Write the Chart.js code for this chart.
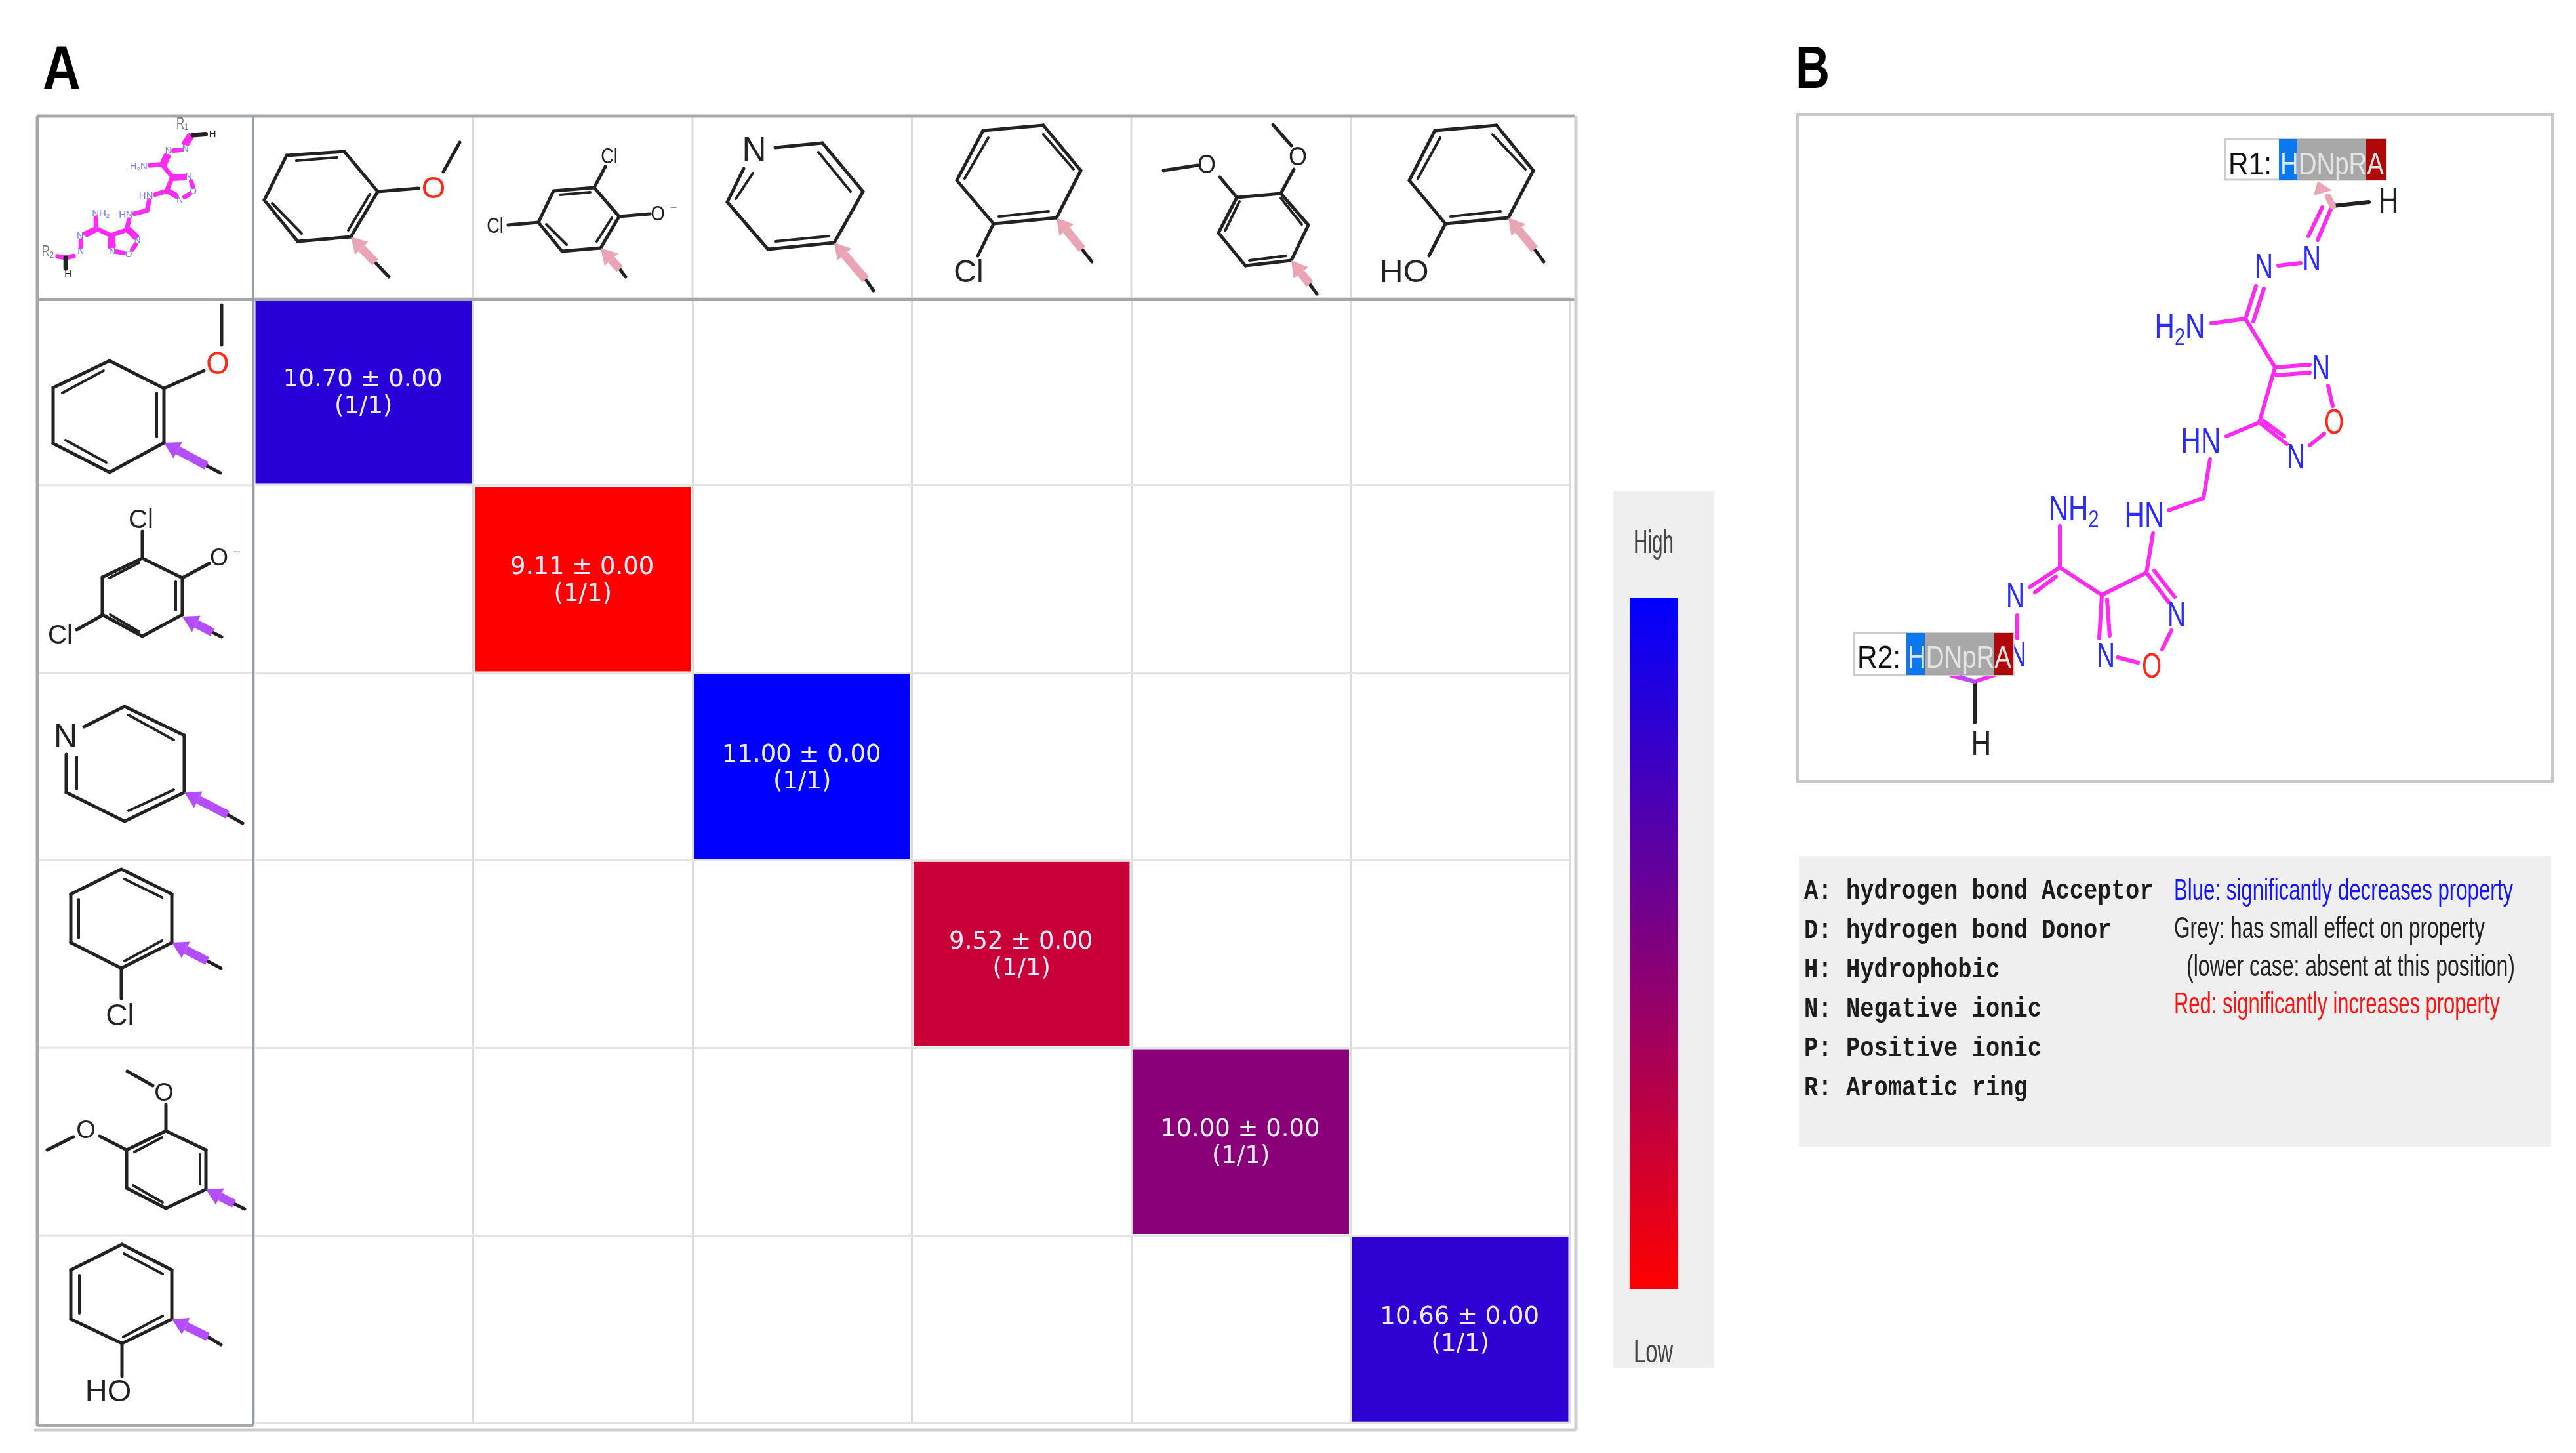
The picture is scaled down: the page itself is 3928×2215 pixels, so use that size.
<!DOCTYPE html>
<html>
<head>
<meta charset="utf-8">
<title>R-group matrix</title>
<script src="https://cdn.jsdelivr.net/npm/chart.js@4"></script>
<style>
html, body { margin: 0; padding: 0; background: #fff; overflow: hidden; }
#wrap { position: relative; width: 3928px; height: 2215px; }
#heat, #art { position: absolute; left: 0; top: 0; }
#art { pointer-events: none; }
text { font-family: "Liberation Sans", Arial, sans-serif; }
</style>
</head>
<body>
<div id="wrap">
<canvas id="heat" width="3928" height="2215"></canvas>
<svg id="art" width="3928" height="2215" viewBox="0 0 3928 2215" xmlns="http://www.w3.org/2000/svg"></svg>
</div>
<script>
// heat map data, R1 substituent = column, R2 substituent = row
const substituents = ['2-methoxy', '3,5-dichloro-2-oxido', 'pyridin-4-yl', '2-chloro', '3,4-dimethoxy', '2-hydroxy'];
const means = [10.70, 9.11, 11.00, 9.52, 10.00, 10.66];
const errors = [0, 0, 0, 0, 0, 0];
const hits = [1, 1, 1, 1, 1, 1];
const totals = [1, 1, 1, 1, 1, 1];
const colourLow = 9.11;
const colourHigh = 11.00;

const legendLeft = ['A: hydrogen bond Acceptor', 'D: hydrogen bond Donor', 'H: Hydrophobic', 'N: Negative ionic', 'P: Positive ionic', 'R: Aromatic ring'];
const legendRight = ['Blue: significantly decreases property', 'Grey: has small effect on property', '(lower case: absent at this position)', 'Red: significantly increases property'];
const pharmacophore = 'HDNpRA';

function cellColour(v) {
    const t = (v - colourLow) / (colourHigh - colourLow);
    return `rgb(${Math.round(255 * (1 - t))},0,${Math.round(255 * t)})`;
}

const cellInset = 0.008;

// header lines outside the plot area and the white labels in the cells
const tablePlugin = {
    id: 'table',
    afterDatasetsDraw(chart) {
        const { ctx, chartArea: a, scales: { x, y } } = chart;
        const top = 177, left = 57, rowHead = 386, right = 2401, bottom = 2180;
        const line = (x1, y1, x2, y2, c, w) => {
            ctx.strokeStyle = c; ctx.lineWidth = w;
            ctx.beginPath(); ctx.moveTo(x1, y1); ctx.lineTo(x2, y2); ctx.stroke();
        };
        ctx.save();
        for (let i = 1; i < 6; i++) {
            const px = a.left + i * (a.right - a.left) / 6;
            line(px, top, px, a.top, '#dcdcdc', 3);
        }
        for (let i = 1; i < 6; i++) {
            const py = y.getPixelForValue(i);
            line(left, py, rowHead, py, '#e4e4e4', 3);
        }
        line(left, top, right, top, '#a4a7ab', 5);
        line(left, 457, right, 457, '#a4a7ab', 4);
        line(left, top, left, 2174, '#a4a7ab', 5);
        line(rowHead, top, rowHead, 2174, '#999da3', 4);
        line(left, 2173, rowHead, 2173, '#a4a7ab', 4);
        line(52, bottom, right + 2, bottom, '#cfcfcf', 5);
        line(right + 2, top, right + 2, bottom, '#cfcfcf', 5);

        ctx.fillStyle = '#f0ecff';
        ctx.font = '37px "DejaVu Sans"';
        ctx.textAlign = 'center';
        means.forEach((v, i) => {
            const cx = x.getPixelForValue(i);
            const cy = y.getPixelForValue(i + 0.5);
            ctx.fillText(`${v.toFixed(2)} ± ${errors[i].toFixed(2)}`, cx - 1, cy - 8);
            ctx.fillText(`(${hits[i]}/${totals[i]})`, cx, cy + 33);
        });
        ctx.restore();
    }
};

new Chart(document.getElementById('heat'), {
    type: 'bar',
    data: {
        labels: substituents,
        datasets: [{
            data: means.map((v, i) => [i + cellInset, i + 1 - cellInset]),
            backgroundColor: means.map(cellColour),
            borderWidth: 0,
            barPercentage: 0.985,
            categoryPercentage: 1
        }]
    },
    options: {
        responsive: false,
        animation: false,
        devicePixelRatio: 1,
        layout: { padding: { left: 387, right: 1534, top: 454, bottom: 46 } },
        plugins: { legend: { display: false }, tooltip: { enabled: false } },
        scales: {
            x: {
                ticks: { display: false },
                grid: { color: '#dcdcdc', lineWidth: 3, drawTicks: false },
                border: { display: false }
            },
            y: {
                min: 0, max: 6, reverse: true,
                ticks: { display: false, stepSize: 1 },
                grid: { color: '#e4e4e4', lineWidth: 3, drawTicks: false },
                border: { display: false }
            }
        }
    },
    plugins: [tablePlugin]
});

// ---- structure drawings, not chart data ----
const BLUE = '#2b2bff', RED = '#ff2a1a', INK = '#222', PINK = '#e9a5b3', PURPLE = '#b44dff', MAG = '#ff2bf0';

function bond(b, c, w) {
    return `<line x1="${b[0]}" y1="${b[1]}" x2="${b[2]}" y2="${b[3]}" stroke="${c}" stroke-width="${w}" stroke-linecap="round" vector-effect="non-scaling-stroke"/>`;
}
function ring(p, open) {
    const edges = p.map((q, i) => { const n = p[(i + 1) % p.length]; return [q[0], q[1], n[0], n[1]]; });
    return open ? edges.slice(0, -1) : edges;
}
function label(t, x, y, size, colour, sx) {
    return `<text transform="translate(${x},${y + size * 0.36}) scale(${sx || 1},1)" text-anchor="middle" font-size="${size}" fill="${colour}">${t}</text>`;
}
function arrow(a, c) {
    // a = tip x,y, start of the coloured part x,y, far end of the black stub x,y
    const [tx, ty, bx, by, ex, ey] = a;
    const len = Math.hypot(bx - tx, by - ty), ux = (bx - tx) / len, uy = (by - ty) / len;
    const hx = tx + ux * 24, hy = ty + uy * 24;
    const head = `${tx},${ty} ${hx - uy * 14},${hy + ux * 14} ${hx + uy * 14},${hy - ux * 14}`;
    return bond([bx, by, ex, ey], INK, 5) +
        bond([hx, hy, bx, by], c, 13).replace('stroke-linecap="round"', '') +
        `<polygon points="${head}" fill="${c}"/>`;
}
function mol(m, c) {
    return ring(m.r, m.open).map(b => bond(b, INK, 5)).join('') +
        (m.b || []).map(b => bond(b, INK, 5)).join('') +
        (m.d || []).map(b => bond(b, INK, 4)).join('') +
        (m.l || []).map(l => label(...l)).join('') +
        arrow(m.a, c);
}

const headerMols = [
    { r: [[437,237],[525,231],[576,292],[535,361],[454,368],[403,305]],
      d: [[452,245,514,240],[564,296,531,351],[415,310,460,356]],
      b: [[576,292,638,287],[676,262,701,217]],
      l: [['O',661,285,47,RED]], a: [535,361,572,400,593,422] },
    { r: [[844,291],[906,286],[944,330],[916,378],[857,383],[821,339]],
      d: [[854,297,900,293],[933,332,910,368],[833,342,864,373]],
      b: [[906,286,923,254],[775,343,821,339],[944,330,991,326]],
      l: [['Cl',929,237,34,INK,.8],['Cl',755,343,34,INK,.8],['O',1003,324,32,INK,.87],['−',1027,316,18,'#777']],
      a: [916,378,945,410,954,422] },
    { open: true, r: [[1254,218],[1316,292],[1272,370],[1171,380],[1109,308]],
      d: [[1248,232,1297,292],[1182,368,1264,360],[1148,264,1122,303]],
      b: [[1182,225,1254,218],[1134,257,1109,308]],
      l: [['N',1150,227,54,INK,.95]], a: [1272,370,1320,426,1332,443] },
    { r: [[1499,199],[1591,191],[1648,260],[1611,332],[1515,341],[1459,275]],
      d: [[1507,210,1471,272],[1591,205,1637,258],[1523,330,1599,322]],
      b: [[1515,341,1491,390]],
      l: [['Cl',1477,413,48,INK]], a: [1611,332,1650,380,1665,399] },
    { r: [[1886,301],[1953,295],[1995,343],[1969,397],[1899,405],[1858,355]],
      d: [[1953,302,1985,342],[1890,307,1868,352],[1905,397,1961,390]],
      b: [[1886,301,1860,270],[1774,260,1826,252],[1953,295,1973,258],[1969,222,1941,190]],
      l: [['O',1840,250,40,INK,.9],['O',1979,238,40,INK,.9]], a: [1969,397,1997,433,2008,448] },
    { r: [[2188,199],[2282,191],[2338,260],[2300,332],[2204,341],[2149,275]],
      d: [[2196,210,2162,272],[2276,205,2326,258],[2212,330,2288,322]],
      b: [[2204,341,2179,390]],
      l: [['HO',2141,413,48,INK,1.05]], a: [2300,332,2340,380,2354,399] }
];

const rowMols = [
    { r: [[167,550],[250,592],[250,675],[167,720],[81,676],[81,591]],
      d: [[158,565,95,599],[239,599,239,666],[100,671,162,705]],
      b: [[250,592,311,565],[338,526,338,465]],
      l: [['O',332,553,48,RED,.95]], a: [250,675,315,710,336,721] },
    { r: [[217,851],[278,881],[278,937],[217,970],[156,937],[156,880]],
      d: [[212,858,167,881],[268,886,268,930],[168,937,212,963]],
      b: [[217,851,217,810],[278,881,319,859],[117,960,156,938]],
      l: [['Cl',215,791,40,INK],['O',334,849,36,INK],['−',361,841,20,'#777'],['Cl',92,967,40,INK]],
      a: [278,940,324,964,338,971] },
    { open: true, r: [[190,1077],[281,1121],[281,1208],[190,1252],[101,1208]],
      d: [[196,1090,265,1128],[196,1236,265,1204],[117,1154,117,1203]],
      b: [[101,1208,101,1150],[128,1108,190,1077]],
      l: [['N',100,1121,50,INK]], a: [281,1208,347,1242,370,1255] },
    { r: [[185,1325],[262,1363],[262,1437],[185,1476],[108,1437],[108,1363]],
      d: [[190,1340,247,1368],[120,1371,120,1430],[190,1465,247,1434]],
      b: [[185,1476,185,1522]],
      l: [['Cl',183,1546,46,INK]], a: [262,1437,316,1465,337,1476] },
    { r: [[253,1724],[314,1753],[314,1813],[253,1842],[193,1811],[193,1753]],
      d: [[247,1734,205,1756],[305,1760,305,1805],[203,1807,248,1833]],
      b: [[253,1724,253,1684],[233,1655,194,1633],[193,1753,152,1732],[112,1733,72,1753]],
      l: [['O',250,1664,38,INK],['O',131,1721,38,INK]], a: [314,1813,357,1835,373,1843] },
    { r: [[186,1897],[262,1936],[262,2011],[186,2048],[108,2011],[108,1936]],
      d: [[189,1911,248,1942],[121,1944,121,2002],[188,2038,248,2006]],
      b: [[186,2048,186,2098]],
      l: [['HO',165,2119,47,INK]], a: [262,2011,317,2038,337,2050] }
];

// panel B scaffold
const scaffoldBonds = [
    [3554,319,3534,366],[3541,316,3520,360],[3474,405,3508,401],[3440,436,3424,486],[3452,440,3436,490],
    [3372,493,3424,486],[3424,486,3469,560],[3469,560,3522,556],[3471,572,3522,568],[3550,588,3557,619],
    [3544,661,3522,679],[3487,677,3445,644],[3483,665,3452,642],[3469,560,3445,644],[3445,644,3395,665],
    [3370,700,3360,759],[3360,759,3307,778],[3283,813,3273,873],[3273,873,3205,907],[3273,873,3307,918],
    [3285,870,3316,910],[3311,961,3297,990],[3260,1010,3229,1002],[3201,973,3205,907],[3217,969,3213,914],
    [3205,907,3141,865],[3141,865,3141,802],[3141,865,3095,895],[3135,879,3103,903],[3076,938,3076,973],
    [2976,1030,3011,1039],[3011,1039,3045,1028]
];
const sub2 = (s) => `<tspan font-size="${s * 0.68}" dy="${s * 0.2}">2</tspan>`;
const scaffoldLabels = [
    ['N',3525,393,54,BLUE,.72],['N',3452,405,54,BLUE,.72],
    [`H${sub2(54)}<tspan dy="-10.8">N</tspan>`,3324,496,54,BLUE,.78],
    ['N',3539,559,54,BLUE,.72],['O',3559,642,54,RED,.72],['N',3501,695,54,BLUE,.72],
    ['HN',3356,671,54,BLUE,.78],['HN',3270,784,54,BLUE,.78],
    [`NH${sub2(54)}`,3162,774,54,BLUE,.78],
    ['N',3319,936,54,BLUE,.72],['O',3281,1014,54,RED,.72],['N',3211,998,54,BLUE,.72],
    ['N',3073,907,54,BLUE,.72],['N',3076,996,54,BLUE,.72]
];
const blackBonds = [[3557,314,3612,308],[3011,1039,3011,1101]];
const blackLabels = [['H',3642,305,54,INK,.78],['H',3021,1132,54,INK,.78]];

function pharmBox(name, x0, x1, x2, x3, y0, y1, base) {
    return `<rect x="${x0}" y="${y0}" width="${x3 - x0}" height="${y1 - y0}" fill="#fff" stroke="#ccc" stroke-width="3"/>` +
        `<rect x="${x1}" y="${y0}" width="28" height="${y1 - y0}" fill="#0a78f0"/>` +
        `<rect x="${x1 + 28}" y="${y0}" width="${x2 - x1 - 28}" height="${y1 - y0}" fill="#a8a8a8"/>` +
        `<rect x="${x2}" y="${y0}" width="${x3 - x2}" height="${y1 - y0}" fill="#b00808"/>` +
        `<text x="${x0 + 5}" y="${base}" font-size="48" fill="#111" textLength="66" lengthAdjust="spacingAndGlyphs">${name}:</text>` +
        `<text x="${x1 + 2}" y="${base}" font-size="48" fill="#e4e4e4" textLength="${x3 - x1 - 5}" lengthAdjust="spacingAndGlyphs">${pharmacophore}</text>`;
}

let s = `<defs><linearGradient id="bar" x1="0" y1="0" x2="0" y2="1"><stop offset="0" stop-color="#0000ff"/><stop offset="1" stop-color="#ff0000"/></linearGradient></defs>`;

// panel letters
s += `<text x="65" y="136" font-size="94" font-weight="bold" fill="#000" textLength="58" lengthAdjust="spacingAndGlyphs">A</text>`;
s += `<text x="2738" y="134" font-size="90" font-weight="bold" fill="#000" textLength="52" lengthAdjust="spacingAndGlyphs">B</text>`;

// header and row-header structures
headerMols.forEach(m => { s += mol(m, PINK); });
rowMols.forEach(m => { s += mol(m, PURPLE); });

// scaffold, once in panel B and once squeezed into the corner cell
const scaffold = (w, colourLabels) =>
    scaffoldBonds.map(b => bond(b, MAG, w)).join('') +
    blackBonds.map(b => bond(b, INK, w)).join('') +
    scaffoldLabels.map(l => label(l[0], l[1], l[2], l[3], colourLabels || l[4], l[5])).join('') +
    blackLabels.map(l => label(...l)).join('');

s += `<rect x="2741" y="175" width="1151" height="1016" fill="#fff" stroke="#c8c8c8" stroke-width="4"/>`;
s += scaffold(6);
s += bond([3557,314,3550,300], PINK, 10) + `<polygon points="3534,276 3528,298 3556,290" fill="${PINK}"/>`;
s += pharmBox('R1', 3393, 3475, 3608, 3638, 212, 274, 266);
s += pharmBox('R2', 2827, 2907, 3041, 3070, 965, 1029, 1018);
s += bond([2990,1032,3011,1039], PURPLE, 6);

s += `<g transform="translate(294,206) scale(.355,.258) translate(-3557,-314)">${scaffold(7, '#7a7aff')}</g>`;
s += `<text transform="translate(278,196) scale(.7,1)" font-size="24" text-anchor="middle" fill="#777">R₁</text>`;
s += `<text transform="translate(73,391) scale(.7,1)" font-size="24" text-anchor="middle" fill="#777">R₂</text>`;

// colour key
s += `<rect x="2460" y="749" width="154" height="1336" fill="#efefef"/>`;
s += `<rect x="2485" y="912" width="74" height="1053" fill="url(#bar)"/>`;
s += `<text x="2491" y="843" font-size="50" fill="#444" textLength="61" lengthAdjust="spacingAndGlyphs">High</text>`;
s += `<text x="2491" y="2077" font-size="50" fill="#444" textLength="60" lengthAdjust="spacingAndGlyphs">Low</text>`;

// pharmacophore legend
s += `<rect x="2743" y="1305" width="1147" height="443" fill="#efefef"/>`;
legendLeft.forEach((t, i) => {
    s += `<text transform="translate(2751,${1370 + i * 60}) scale(1,1.2)" style="font-family:'Liberation Mono',monospace;font-weight:bold" font-size="35.5" fill="#1c1c1c">${t}</text>`;
});
const rightX = [3315, 3315, 3334, 3315], rightW = [517, 474, 501, 497], rightY = [1372, 1430, 1488, 1545], rightC = ['#1414ff', '#222', '#222', '#ff1414'];
legendRight.forEach((t, i) => {
    s += `<text x="${rightX[i]}" y="${rightY[i]}" font-size="46" fill="${rightC[i]}" textLength="${rightW[i]}" lengthAdjust="spacingAndGlyphs">${t}</text>`;
});

document.getElementById('art').innerHTML = s;
</script>
</body>
</html>
